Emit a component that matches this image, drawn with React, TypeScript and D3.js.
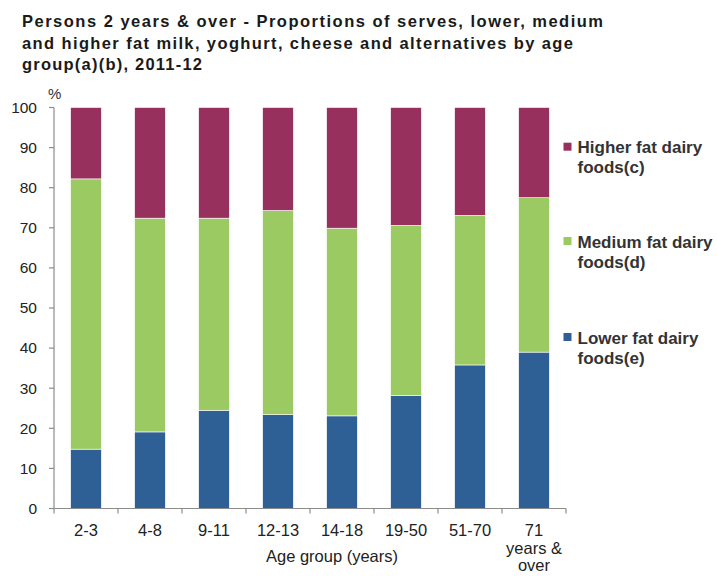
import React from "react";
import * as d3 from "d3";

const categories = ["2-3", "4-8", "9-11", "12-13", "14-18", "19-50", "51-70", "71 years & over"];
const lowerFat = [14.8, 19.1, 24.5, 23.4, 23.1, 28.2, 35.8, 39.0];
const mediumFat = [67.4, 53.3, 47.9, 50.9, 46.8, 42.4, 37.3, 38.5];
const higherFat = [17.8, 27.6, 27.6, 25.7, 30.1, 29.4, 26.9, 22.5];
const yTicks = [0, 10, 20, 30, 40, 50, 60, 70, 80, 90, 100];
const seriesNames = ["Lower fat dairy foods(e)", "Medium fat dairy foods(d)", "Higher fat dairy foods(c)"];
const legendLines = [["Higher fat dairy", "foods(c)"], ["Medium fat dairy", "foods(d)"], ["Lower fat dairy", "foods(e)"]];
const titleLines = [
  "Persons  2 years & over - Proportions  of serves,  lower, medium",
  "and higher fat milk, yoghurt,  cheese and alternatives by age",
  "group(a)(b),  2011-12",
];
const titleWidths = [581, 551, 180];

const colors = ["#2E6096", "#9BC962", "#98305E"];
const legendColors = ["#98305E", "#9BC962", "#2E6096"];

export default function App() {
  const W = 717, H = 576;
  const left = 54, right = 566, top = 107.5, bottom = 508.5;
  const x = d3.scaleBand<string>().domain(categories).range([left, right]).paddingInner(0.52).paddingOuter(0.26);
  const y = d3.scaleLinear().domain([0, 100]).range([bottom, top]);
  const data = categories.map((c, i) => ({ cat: c, lower: lowerFat[i], medium: mediumFat[i], higher: higherFat[i] }));
  const stack = d3.stack<any>().keys(["lower", "medium", "higher"]);
  const series = stack(data);
  const band = (right - left) / categories.length;
  const font = "'Liberation Sans', Arial, sans-serif";
  const axisColor = "#8c8c8c";
  const legendY = [146.7, 241, 337];
  return (
    <svg width={W} height={H} style={{ position: "absolute", left: 0, top: 0, background: "#fff" }} fontFamily={font}>
      {titleLines.map((t, i) => (
        <text key={i} x={22} y={26.7 + i * 21.8} fontSize={16.5} fontWeight="bold" fill="#1a1a1a"
          textLength={titleWidths[i]} lengthAdjust="spacing">{t}</text>
      ))}
      <text x={48} y={99} fontSize={15} fill="#333">%</text>
      {series.map((s, si) => (
        <g key={si}>
          {s.map((d, i) => (
            <rect key={i} x={x(categories[i])!} y={y(d[1])} width={x.bandwidth()} height={y(d[0]) - y(d[1])}
              fill={colors[si]} stroke="#fff" strokeWidth={0.6}>
              <title>{seriesNames[si]}</title>
            </rect>
          ))}
        </g>
      ))}
      <line x1={left} x2={left} y1={top} y2={bottom} stroke={axisColor} strokeWidth={1.2} />
      {yTicks.map((t) => (
        <g key={t}>
          <line x1={left - 5} x2={left} y1={y(t)} y2={y(t)} stroke={axisColor} strokeWidth={1.2} />
          <text x={37} y={y(t) + 5.3} fontSize={15.5} textAnchor="end" fill="#222">{t}</text>
        </g>
      ))}
      <line x1={left} x2={right} y1={bottom} y2={bottom} stroke={axisColor} strokeWidth={1.2} />
      {d3.range(categories.length + 1).map((i) => (
        <line key={i} x1={left + i * band} x2={left + i * band} y1={bottom} y2={bottom + 5} stroke={axisColor} strokeWidth={1.2} />
      ))}
      {categories.map((c, i) => {
        const cx = x(c)! + x.bandwidth() / 2;
        if (c === "71 years & over") {
          return (
            <text key={c} x={cx} fontSize={16.5} textAnchor="middle" fill="#222">
              <tspan x={cx} y={535.5}>71</tspan>
              <tspan x={cx} y={554}>years &amp;</tspan>
              <tspan x={cx} y={571}>over</tspan>
            </text>
          );
        }
        return <text key={c} x={cx} y={535.5} fontSize={16.5} textAnchor="middle" fill="#222">{c}</text>;
      })}
      <text x={332} y={562} fontSize={16.5} textAnchor="middle" fill="#222">Age group (years)</text>
      {legendLines.map((lines, i) => {
        const ly = legendY[i];
        return (
          <g key={i}>
            <rect x={563.5} y={ly - 4} width={8} height={8} fill={legendColors[i]} />
            {lines.map((l, j) => (
              <text key={j} x={577.5} y={ly + 6.5 + j * 20} fontSize={17} fontWeight="bold" fill="#333">{l}</text>
            ))}
          </g>
        );
      })}
    </svg>
  );
}
